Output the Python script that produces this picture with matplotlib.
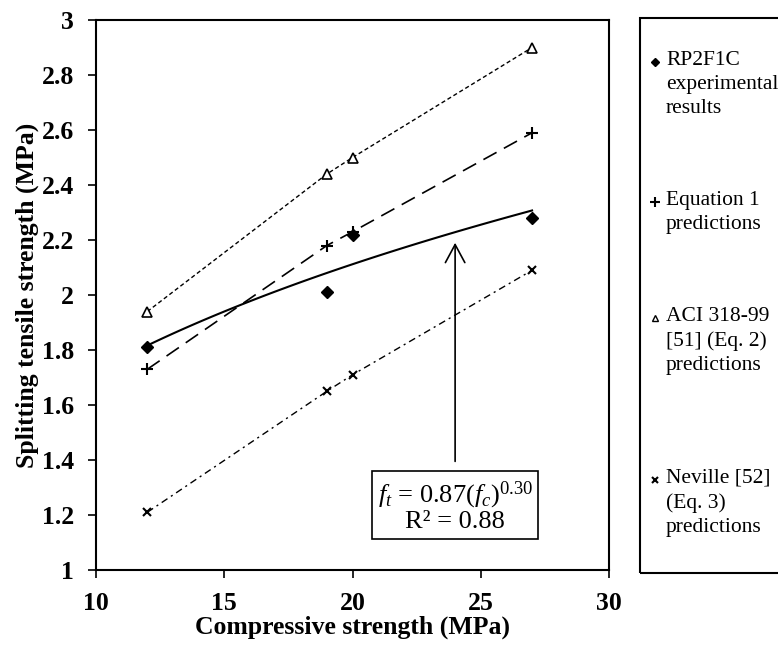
import numpy as np
import matplotlib
matplotlib.use('Agg')
import matplotlib.pyplot as plt
from matplotlib.lines import Line2D
from matplotlib.patches import Rectangle

plt.rcParams['font.family'] = 'Liberation Serif'
plt.rcParams['mathtext.fontset'] = 'custom'
plt.rcParams['mathtext.rm'] = 'Liberation Serif'
plt.rcParams['mathtext.it'] = 'Liberation Serif:italic'

# compressive strength (MPa)
fc = [12, 19, 20, 27]
# splitting tensile strength (MPa)
experimental = [1.81, 2.01, 2.22, 2.28]
eq1_pred = [1.73, 2.18, 2.23, 2.59]
aci_pred = [1.94, 2.44, 2.50, 2.90]
neville_pred = [1.21, 1.65, 1.71, 2.09]

legend_labels = ['RP2F1C\nexperimental\nresults',
                 'Equation 1\npredictions',
                 'ACI 318-99\n[51] (Eq. 2)\npredictions',
                 'Neville [52]\n(Eq. 3)\npredictions']

fig = plt.figure(figsize=(7.78, 6.46), dpi=100)
ax = fig.add_axes([0.1234, 0.1176, 0.6594, 0.8514])

ax.plot(fc, aci_pred, color='black', lw=1, linestyle=(0, (3, 2)),
        marker='^', ms=7, mfc='white', mec='black', mew=1.2)
ax.plot(fc, eq1_pred, color='black', lw=1.2, linestyle=(0, (9, 5)),
        marker='+', ms=9, mew=1.5)
ax.plot(fc, neville_pred, color='black', lw=1, linestyle=(0, (5, 3, 1.5, 3)),
        marker='x', ms=6, mew=1.5)
ax.plot(fc, experimental, color='black', lw=0, marker='D', ms=6)

# power trendline fitted to experimental data
b, lna = np.polyfit(np.log(fc), np.log(experimental), 1)
xs = np.linspace(min(fc), max(fc), 100)
ax.plot(xs, np.exp(lna) * xs ** b, color='black', lw=1.5)

ax.annotate('', xy=(24, 2.19), xytext=(24, 1.395),
            arrowprops=dict(arrowstyle='->,head_length=1.3,head_width=0.7',
                            color='black', lw=1.2, shrinkA=0, shrinkB=0))
ax.text(24, 1.23, '$f_t$ = 0.87($f_c$)$^{0.30}$\nR\u00b2 = 0.88',
        ha='center', va='center', fontsize=19, linespacing=1.0,
        bbox=dict(boxstyle='square,pad=0.2', fc='white', ec='black', lw=1.2))

ax.set_xlim(10, 30)
ax.set_ylim(1, 3)
ax.set_xticks([10, 15, 20, 25, 30])
ax.set_yticks([1, 1.2, 1.4, 1.6, 1.8, 2, 2.2, 2.4, 2.6, 2.8, 3])
ax.set_yticklabels(['1', '1.2', '1.4', '1.6', '1.8', '2', '2.2', '2.4', '2.6', '2.8', '3'])
ax.tick_params(direction='out', length=6, width=1.2, labelsize=18.5, pad=10)
for lbl in ax.get_xticklabels() + ax.get_yticklabels():
    lbl.set_fontweight('bold')
for s in ax.spines.values():
    s.set_linewidth(1.5)
ax.set_xlabel('Compressive strength (MPa)', fontsize=18.5, fontweight='bold', labelpad=0)
ax.set_ylabel('Splitting tensile strength (MPa)', fontsize=18.5, fontweight='bold', labelpad=2)

# legend drawn manually in figure pixels
W, H = 778.0, 646.0
fig.patches.append(Rectangle((640 / W, 1 - 573 / H), 160 / W, (573 - 18) / H,
                             transform=fig.transFigure, fill=False, ec='black', lw=1.5))
markers = [dict(marker='D', ms=4.5, mfc='black', mec='black'),
           dict(marker='+', ms=7, mew=1.5, mec='black'),
           dict(marker='^', ms=5, mfc='white', mec='black', mew=1),
           dict(marker='x', ms=5, mew=1.5, mec='black')]
ys = [62, 202, 318, 480]
for y, m, lab in zip(ys, markers, legend_labels):
    fig.add_artist(Line2D([655 / W], [1 - y / H], transform=fig.transFigure, lw=0, **m))
    fig.text(666 / W, 1 - (y - 11) / H, lab, ha='left', va='top', fontsize=15.5,
             linespacing=1.35)

fig.savefig('out.png', dpi=100)
